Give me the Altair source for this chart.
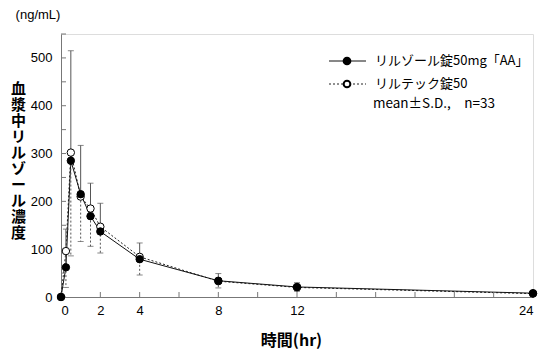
import altair as alt
import pandas as pd

# ---- data ----
times = [0, 0.25, 0.5, 1, 1.5, 2, 4, 8, 12, 24]
aa_mean = [0, 62, 285, 215, 169, 137, 79, 34, 21, 8]
aa_sd = [0, 80, 230, 102, 69, 59, 34, 15, 9, 2]
ril_mean = [0, 96, 302, 210, 185, 147, 84, 33, 20, 7]
ril_sd = [0, 76, 216, 94, 79, 55, 38, 14, 8, 2]

x_ticks = [0, 2, 4, 6, 8, 10, 12, 14, 16, 18, 20, 22, 24]
x_labels = [0, 2, 4, 8, 12, 24]
y_ticks = [0, 50, 100, 150, 200, 250, 300, 350, 400, 450, 500, 550]
y_labels = [0, 100, 200, 300, 400, 500]

legend_names = ["リルゾール錠50mg「AA」", "リルテック錠50"]
note_text = "mean±S.D.,\u3000n=33"
y_title = list("血漿中リルゾール濃度")
x_title = "時間(hr)"
unit_text = "(ng/mL)"

FONT = "Liberation Sans, Noto Sans CJK JP"
JFONT = "Noto Sans CJK JP"

W, H = 472, 263

df = pd.DataFrame({
    "t": times,
    "aa": aa_mean,
    "aa_hi": [m + s for m, s in zip(aa_mean, aa_sd)],
    "ril": ril_mean,
    "ril_lo": [m - s for m, s in zip(ril_mean, ril_sd)],
})
df_err = df[df["t"] > 0]

xs = alt.Scale(domain=[0, 24], nice=False)
ys = alt.Scale(domain=[0, 550], nice=False)

base = alt.Chart(df)

line_ril = base.mark_line(color="#222", strokeWidth=1, strokeDash=[2, 2]).encode(
    x=alt.X("t:Q", scale=xs,
            axis=alt.Axis(values=x_labels, ticks=False, grid=False, domainColor="#777",
                          labelFont=FONT, labelFontSize=13, labelColor="#000", labelPadding=7,
                          title=x_title, titleFont=JFONT, titleFontSize=16, titleFontWeight="bold",
                          titleX=230, titleY=43, titleBaseline="middle", titleAlign="center")),
    y=alt.Y("ril:Q", scale=ys,
            axis=alt.Axis(values=y_labels, ticks=False, grid=False, domainColor="#777",
                          labelFont=FONT, labelFontSize=13, labelColor="#000", labelPadding=9,
                          title=y_title, titleFont=JFONT, titleFontSize=15, titleFontWeight="bold",
                          titleAngle=0, titleX=-43, titleY=47, titleAlign="center",
                          titleBaseline="top", titleLineHeight=16.1)),
)
line_aa = base.mark_line(color="#111", strokeWidth=1).encode(x=alt.X("t:Q", scale=xs), y=alt.Y("aa:Q", scale=ys))

err_aa = alt.Chart(df_err).mark_rule(color="#555", strokeWidth=1).encode(
    x=alt.X("t:Q", scale=xs), y=alt.Y("aa:Q", scale=ys), y2="aa_hi:Q")
cap_aa = alt.Chart(df_err).mark_tick(color="#555", thickness=1, size=6, orient="horizontal").encode(
    x=alt.X("t:Q", scale=xs), y=alt.Y("aa_hi:Q", scale=ys))
err_ril = alt.Chart(df_err).mark_rule(color="#555", strokeWidth=1, strokeDash=[2, 2]).encode(
    x=alt.X("t:Q", scale=xs), y=alt.Y("ril:Q", scale=ys), y2="ril_lo:Q")
cap_ril = alt.Chart(df_err).mark_tick(color="#555", thickness=1, size=6, orient="horizontal",
                                      strokeDash=[2, 1]).encode(
    x=alt.X("t:Q", scale=xs), y=alt.Y("ril_lo:Q", scale=ys))

pt_ril = base.mark_point(shape="circle", filled=True, fill="white", stroke="#000", strokeWidth=1,
                         size=55, opacity=1).encode(x=alt.X("t:Q", scale=xs), y=alt.Y("ril:Q", scale=ys))
pt_aa = base.mark_point(shape="circle", filled=True, fill="#000", stroke="#000", strokeWidth=1,
                        size=55, opacity=1).encode(x=alt.X("t:Q", scale=xs), y=alt.Y("aa:Q", scale=ys))

xt = alt.Chart(pd.DataFrame({"v": x_ticks})).mark_rule(color="#777", strokeWidth=1).encode(
    x=alt.X("v:Q", scale=xs), y=alt.value(H), y2=alt.value(H - 5))
yt = alt.Chart(pd.DataFrame({"v": y_ticks})).mark_rule(color="#777", strokeWidth=1).encode(
    y=alt.Y("v:Q", scale=ys), x=alt.value(0), x2=alt.value(5))

# legend (manual)
leg_df = pd.DataFrame({"name": legend_names, "row": [0, 1]})
leg_line1 = alt.Chart(leg_df[leg_df.row == 0]).mark_rule(color="#111", strokeWidth=1).encode(
    x=alt.value(268), x2=alt.value(305), y=alt.value(27))
leg_line2 = alt.Chart(leg_df[leg_df.row == 1]).mark_rule(color="#222", strokeWidth=1, strokeDash=[2, 2]).encode(
    x=alt.value(268), x2=alt.value(305), y=alt.value(50))
leg_pt1 = alt.Chart(leg_df[leg_df.row == 0]).mark_point(shape="circle", filled=True, fill="#000", stroke="#000",
                                                        size=45, opacity=1).encode(x=alt.value(286), y=alt.value(27))
leg_pt2 = alt.Chart(leg_df[leg_df.row == 1]).mark_point(shape="circle", filled=True, fill="white", stroke="#000",
                                                        size=45, opacity=1).encode(x=alt.value(286), y=alt.value(50))
leg_t1 = alt.Chart(leg_df[leg_df.row == 0]).mark_text(align="left", baseline="middle", font=JFONT,
                                                      fontSize=13, color="#000").encode(
    x=alt.value(314), y=alt.value(27), text="name:N")
leg_t2 = alt.Chart(leg_df[leg_df.row == 1]).mark_text(align="left", baseline="middle", font=JFONT,
                                                      fontSize=13, color="#000").encode(
    x=alt.value(314), y=alt.value(50), text="name:N")
note = alt.Chart(pd.DataFrame({"s": [note_text]})).mark_text(align="left", baseline="middle", font=JFONT,
                                                            fontSize=13.5, color="#000").encode(
    x=alt.value(312), y=alt.value(70), text="s:N")
unit = alt.Chart(pd.DataFrame({"s": [unit_text]})).mark_text(align="center", baseline="middle", font=FONT,
                                                            fontSize=13, color="#000").encode(
    x=alt.value(-23), y=alt.value(-19), text="s:N")

chart = alt.layer(
    line_ril, line_aa, err_aa, cap_aa, err_ril, cap_ril, xt, yt, pt_ril, pt_aa,
    leg_line1, leg_line2, leg_pt1, leg_pt2, leg_t1, leg_t2, note, unit
).properties(
    width=W, height=H,
    autosize=alt.AutoSizeParams(type="none"),
    padding={"left": 61, "top": 34, "right": 13, "bottom": 58},
).configure_view(stroke=None).configure(background="white")

chart.save("out.html", embed_options={"renderer": "svg", "actions": False})
